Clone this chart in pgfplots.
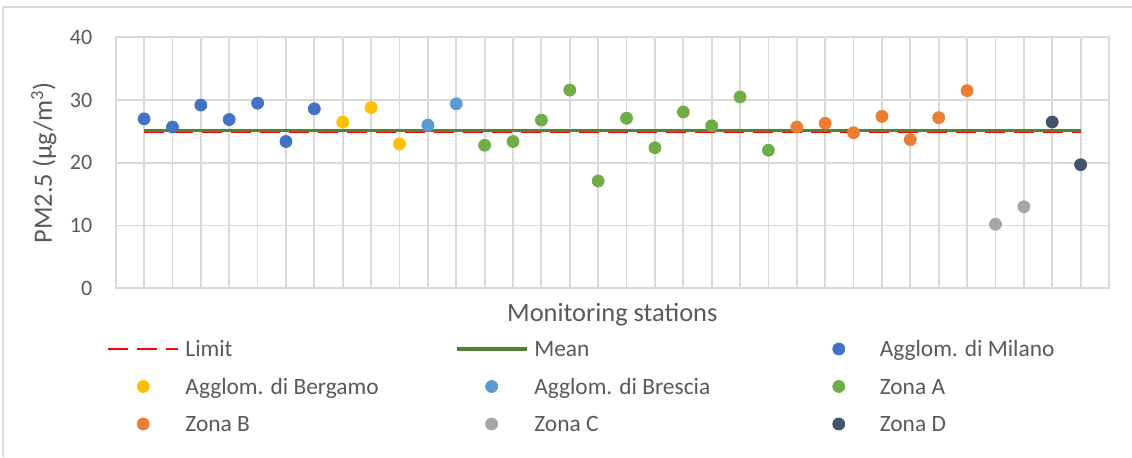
\documentclass[border=0pt]{standalone}
\usepackage{fontspec}
\setmainfont{Carlito}
\usepackage{pgfplots}
\pgfplotsset{compat=1.18}

\definecolor{milano}{HTML}{4472C4}
\definecolor{bergamo}{HTML}{FFC000}
\definecolor{brescia}{HTML}{5B9BD5}
\definecolor{zonaA}{HTML}{70AD47}
\definecolor{zonaB}{HTML}{ED7D31}
\definecolor{zonaC}{HTML}{A5A5A5}
\definecolor{zonaD}{HTML}{44546A}
\definecolor{limitred}{HTML}{FF0000}
\definecolor{meangreen}{HTML}{548235}
\definecolor{gridgray}{HTML}{D9D9D9}
\definecolor{labelgray}{HTML}{595959}

\pgfplotsset{
  station/.style={only marks, mark=*, mark size=3pt, color=#1,
    legend image code/.code={%
      \path[draw=none, fill=none] (0pt,-3.5pt) (35pt,3.5pt);
      \draw[##1] plot coordinates {(17.5pt,0pt)};}},
  refline/.style={no marks,
    legend image code/.code={\draw[##1] (0pt,0pt) -- (35pt,0pt);}},
}
\newcommand{\entry}[1]{\makebox[131.75pt][l]{#1}}

\begin{document}
\begin{tikzpicture}
\useasboundingbox (0,0) rectangle (566pt,228.5pt);
% chart area frame
\draw[gridgray, line width=0.8pt] (1.65pt,0pt) -- (1.65pt,225.15pt) -- (566pt,225.15pt);

\begin{axis}[
  at={(57.85pt,84.35pt)}, anchor=south west,
  scale only axis, width=496.65pt, height=125.5pt,
  xmin=0, xmax=35, ymin=0, ymax=40,
  xtick={0,...,35}, xticklabels={},
  ytick={0,10,20,30,40},
  grid=major,
  major grid style={draw=gridgray, line width=0.9pt},
  axis line style={draw=gridgray, line width=0.9pt},
  major tick length=0pt,
  /pgf/number format/assume math mode=true,
  yticklabel style={font=\fontsize{11}{13}\selectfont, text=labelgray,
    anchor=east, inner sep=0pt, xshift=-11.5pt},
  xlabel={Monitoring stations},
  xlabel style={at={(axis description cs:0.5,-0.1303)}, anchor=base,
    font=\fontsize{13.2}{15}\selectfont, text=labelgray},
  ylabel={PM2.5 (µg/m\textsuperscript{3})},
  ylabel style={at={(axis description cs:-0.0642,0.5)}, anchor=base, rotate=0,
    font=\fontsize{13.2}{15}\selectfont, text=labelgray},
  legend columns=3,
  legend cell align=left,
  legend style={at={(axis description cs:-0.00876,-0.1928)}, anchor=north west,
    draw=none, fill=none, inner sep=0pt, outer sep=0pt, row sep=6.45pt,
    nodes={inner xsep=3pt, inner ysep=0pt, text height=10pt, text depth=2.3pt,
      font=\fontsize{11.7}{14}\selectfont, text=labelgray}},
]
% annual limit value and mean of all stations
\addplot[refline, limitred, line width=1.25pt, dash pattern=on 9.75pt off 4.75pt]
  coordinates {(1,25) (34,25)};
\addlegendentry{\entry{Limit}}
\addplot[refline, meangreen, line width=1.65pt]
  coordinates {(1,25.2) (34,25.2)};
\addlegendentry{\entry{Mean}}

% stations grouped by zone
\addplot[station=milano] coordinates {
  (1,27.0) (2,25.7) (3,29.2) (4,26.9) (5,29.5) (6,23.4) (7,28.6)};
\addlegendentry{\entry{Agglom. di Milano}}
\addplot[station=bergamo] coordinates {
  (8,26.5) (9,28.8) (10,23.0)};
\addlegendentry{\entry{Agglom. di Bergamo}}
\addplot[station=brescia] coordinates {
  (11,26.0) (12,29.4)};
\addlegendentry{\entry{Agglom. di Brescia}}
\addplot[station=zonaA] coordinates {
  (13,22.8) (14,23.4) (15,26.8) (16,31.6) (17,17.1) (18,27.1)
  (19,22.4) (20,28.1) (21,25.9) (22,30.5) (23,22.0)};
\addlegendentry{\entry{Zona A}}
\addplot[station=zonaB] coordinates {
  (24,25.7) (25,26.3) (26,24.8) (27,27.4) (28,23.7) (29,27.2) (30,31.5)};
\addlegendentry{\entry{Zona B}}
\addplot[station=zonaC] coordinates {
  (31,10.2) (32,13.0)};
\addlegendentry{\entry{Zona C}}
\addplot[station=zonaD] coordinates {
  (33,26.5) (34,19.7)};
\addlegendentry{\entry{Zona D}}
\end{axis}
\end{tikzpicture}
\end{document}
